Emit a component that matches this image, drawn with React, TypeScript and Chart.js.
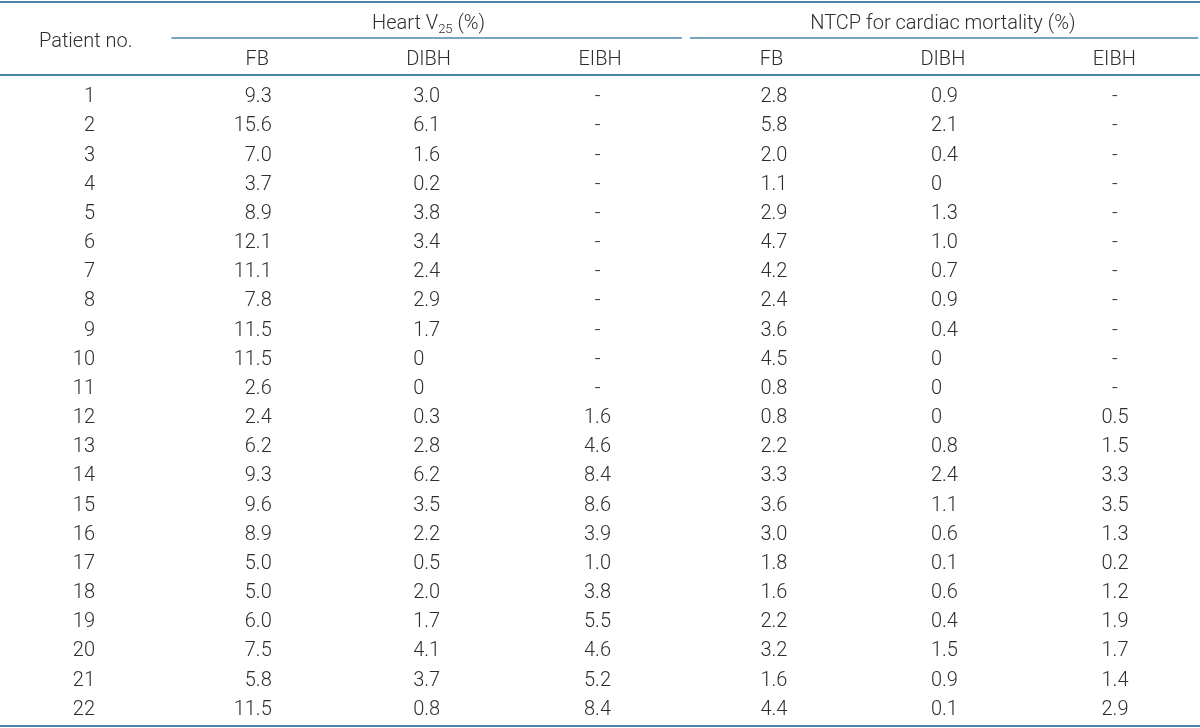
import React, { useEffect, useRef } from "react";
import { Chart, registerables } from "chart.js";

Chart.register(...registerables);

// ---------- data ----------
const patients = [1, 2, 3, 4, 5, 6, 7, 8, 9, 10, 11, 12, 13, 14, 15, 16, 17, 18, 19, 20, 21, 22];
const heartFB = [9.3, 15.6, 7.0, 3.7, 8.9, 12.1, 11.1, 7.8, 11.5, 11.5, 2.6, 2.4, 6.2, 9.3, 9.6, 8.9, 5.0, 5.0, 6.0, 7.5, 5.8, 11.5];
const heartDIBH = [3.0, 6.1, 1.6, 0.2, 3.8, 3.4, 2.4, 2.9, 1.7, 0, 0, 0.3, 2.8, 6.2, 3.5, 2.2, 0.5, 2.0, 1.7, 4.1, 3.7, 0.8];
const heartEIBH = [null, null, null, null, null, null, null, null, null, null, null, 1.6, 4.6, 8.4, 8.6, 3.9, 1.0, 3.8, 5.5, 4.6, 5.2, 8.4];
const ntcpFB = [2.8, 5.8, 2.0, 1.1, 2.9, 4.7, 4.2, 2.4, 3.6, 4.5, 0.8, 0.8, 2.2, 3.3, 3.6, 3.0, 1.8, 1.6, 2.2, 3.2, 1.6, 4.4];
const ntcpDIBH = [0.9, 2.1, 0.4, 0, 1.3, 1.0, 0.7, 0.9, 0.4, 0, 0, 0, 0.8, 2.4, 1.1, 0.6, 0.1, 0.6, 0.4, 1.5, 0.9, 0.1];
const ntcpEIBH = [null, null, null, null, null, null, null, null, null, null, null, 0.5, 1.5, 3.3, 3.5, 1.3, 0.2, 1.2, 1.9, 1.7, 1.4, 2.9];

const firstColumnTitle = "Patient no.";
const heartHeading = ["Heart V", "25", " (%)"]; // normal, subscript, normal
const ntcpHeading = ["NTCP for cardiac mortality (%)"];
const subHeadings = ["FB", "DIBH", "EIBH"];

// ---------- styles / layout ----------
const TEXT = "#2e2e2e";
const LINE = "#4a86a8";
const FONT_FAMILY = "Roboto, 'Noto Sans', sans-serif";
const FONT_SIZE = 20;
const font = (size: number) => `300 ${size}px ${FONT_FAMILY}`;

// row coordinates (in the y scale's units)
const ROW_GROUP = -1.503;
const ROW_PATIENT_TITLE = -0.886;
const ROW_SUB = -0.268;
const LINE_TOP = -2.188;
const LINE_GROUP = -0.954;
const LINE_HEADER = 0.314;
const LINE_BOTTOM = 22.63;

const fmt = (v: number | null) => (v === null ? "-" : v === 0 ? "0" : v.toFixed(1));

type ColSpec = { values: (number | null)[]; col: number; align: "right" | "center"; off: number; decimal: boolean; isInt?: boolean };

const columns: ColSpec[] = [
  { values: patients, col: 0, align: "right", off: 9.3, decimal: false, isInt: true },
  { values: heartFB, col: 1, align: "right", off: 14.6, decimal: true },
  { values: heartDIBH, col: 2, align: "right", off: 11.6, decimal: true },
  { values: heartEIBH, col: 3, align: "center", off: -2.5, decimal: false },
  { values: ntcpFB, col: 4, align: "right", off: 16, decimal: true },
  { values: ntcpDIBH, col: 5, align: "right", off: 15, decimal: true },
  { values: ntcpEIBH, col: 6, align: "center", off: 0.7, decimal: false },
];

const tablePlugin = {
  id: "tableText",
  afterDatasetsDraw(chart: any) {
    const ctx: CanvasRenderingContext2D = chart.ctx;
    const xs = chart.scales.x;
    const ys = chart.scales.y;
    ctx.save();

    const hline = (c0: number | null, c1: number | null, r: number, w: number) => {
      const y = ys.getPixelForValue(r);
      const x0 = c0 === null ? xs.left : xs.getPixelForValue(c0);
      const x1 = c1 === null ? xs.right : xs.getPixelForValue(c1);
      ctx.beginPath();
      ctx.strokeStyle = LINE;
      ctx.lineWidth = w;
      ctx.moveTo(x0, y);
      ctx.lineTo(x1, y);
      ctx.stroke();
    };
    hline(null, null, LINE_TOP, 2);
    hline(0.5, 3.478, LINE_GROUP, 1.5);
    hline(3.525, 6.49, LINE_GROUP, 1.5);
    hline(null, null, LINE_HEADER, 1.8);
    hline(null, null, LINE_BOTTOM, 2);

    const capShift = FONT_SIZE * 0.36;
    ctx.fillStyle = TEXT;
    ctx.textBaseline = "alphabetic";

    const centered = (text: string, col: number, row: number) => {
      ctx.font = font(FONT_SIZE);
      ctx.textAlign = "center";
      ctx.fillText(text, xs.getPixelForValue(col), ys.getPixelForValue(row) + capShift);
    };

    // headings
    centered(firstColumnTitle, 0, ROW_PATIENT_TITLE);
    const drawParts = (parts: string[], col: number, row: number) => {
      const subSize = 13;
      ctx.textAlign = "left";
      const widths = parts.map((p, i) => {
        ctx.font = font(i === 1 ? subSize : FONT_SIZE);
        return ctx.measureText(p).width;
      });
      const total = widths.reduce((a, b) => a + b, 0);
      let x = xs.getPixelForValue(col) - total / 2;
      const base = ys.getPixelForValue(row) + capShift;
      parts.forEach((p, i) => {
        ctx.font = font(i === 1 ? subSize : FONT_SIZE);
        ctx.fillText(p, x, i === 1 ? base + 4 : base);
        x += widths[i];
      });
    };
    drawParts(heartHeading, 2, ROW_GROUP);
    drawParts(ntcpHeading, 5, ROW_GROUP);
    subHeadings.forEach((s, i) => {
      centered(s, 1 + i, ROW_SUB);
      centered(s, 4 + i, ROW_SUB);
    });

    // cells, positioned from the dataset elements
    ctx.font = font(FONT_SIZE);
    chart.data.datasets.forEach((ds: any, di: number) => {
      const meta = chart.getDatasetMeta(di);
      const spec: ColSpec = ds.spec;
      meta.data.forEach((el: any, i: number) => {
        const v = spec.values[i];
        const text = spec.isInt ? String(v) : fmt(v as number | null);
        const y = el.y + capShift;
        if (spec.align === "center") {
          ctx.textAlign = "center";
          ctx.fillText(text, el.x + spec.off, y);
        } else {
          ctx.textAlign = "right";
          let xr = el.x + spec.off;
          if (spec.decimal && text.indexOf(".") < 0) xr -= ctx.measureText(".0").width;
          ctx.fillText(text, xr, y);
        }
      });
    });
    ctx.restore();
  },
};

export default function App() {
  const ref = useRef<HTMLCanvasElement | null>(null);
  useEffect(() => {
    document.body.style.margin = "0";
    if (!ref.current) return;
    const datasets = columns.map((c) => ({
      label: String(c.col),
      spec: c,
      data: c.values.map((_, i) => ({ x: c.col, y: patients[i] })),
      pointRadius: 0,
      pointHoverRadius: 0,
      showLine: false,
    }));
    const chart = new Chart(ref.current, {
      type: "scatter",
      data: { datasets: datasets as any },
      options: {
        animation: false,
        responsive: true,
        maintainAspectRatio: false,
        layout: { padding: 0 },
        events: [],
        plugins: { legend: { display: false }, tooltip: { enabled: false } },
        scales: {
          x: { type: "linear", min: -0.5, max: 6.5, display: false },
          y: { type: "linear", min: -2.257, max: 22.7, reverse: true, display: false },
        },
      },
      plugins: [tablePlugin as any],
    });
    return () => chart.destroy();
  }, []);
  return (
    <div style={{ width: 1200, height: 728, position: "relative", background: "#fff" }}>
      <canvas ref={ref} />
    </div>
  );
}
